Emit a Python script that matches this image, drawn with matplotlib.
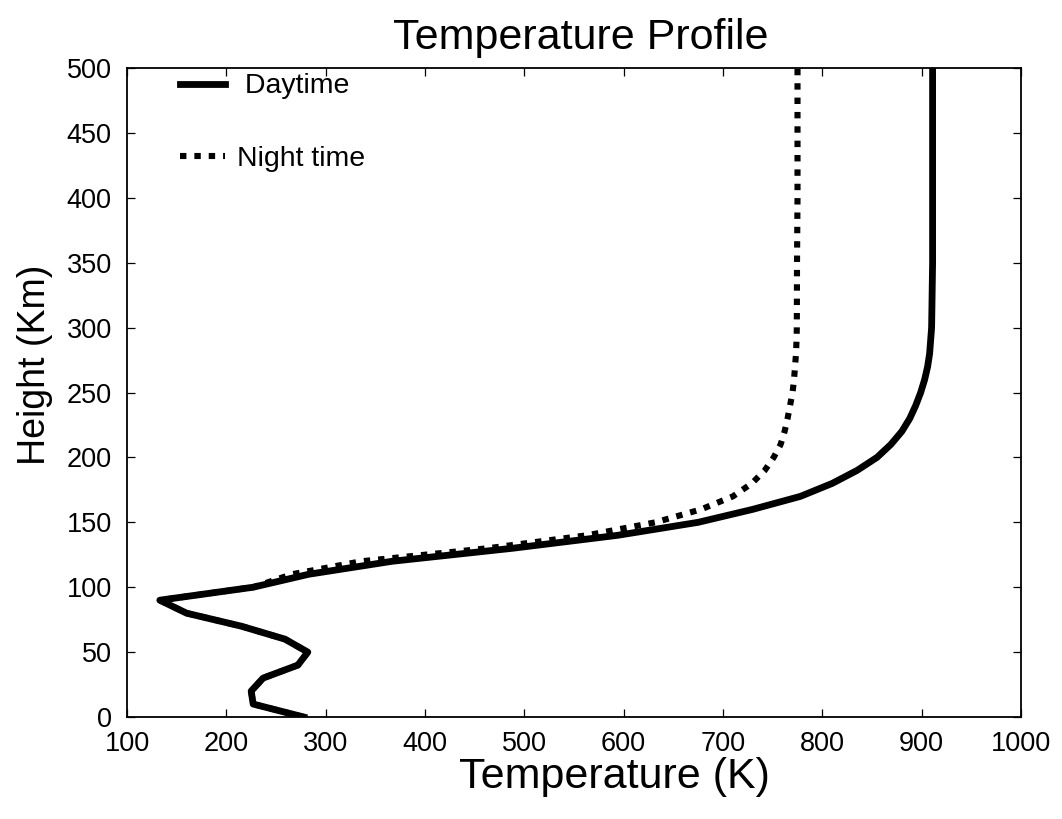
import numpy as np
import matplotlib
matplotlib.use('Agg')
import matplotlib.pyplot as plt

plt.rcParams['font.family'] = ['Liberation Sans', 'DejaVu Sans']

# heights (km) and temperatures (K)
height = [0, 10, 20, 30, 40, 50, 60, 70, 80, 90, 100,
          110, 120, 130, 140, 150, 160, 170, 180, 190, 200,
          210, 220, 230, 240, 250, 260, 270, 280, 290, 300,
          350, 400, 450, 500]

temp_day = [278, 227, 225, 237, 272, 282, 259, 215, 160, 133, 227,
            283, 367, 488, 594, 675, 730, 778, 810, 835, 855,
            869, 880, 888, 894, 899, 903, 906, 908, 909, 910,
            911, 911, 911, 911]

temp_night = [278, 227, 225, 237, 272, 282, 259, 215, 160, 133, 227,
              266, 336, 463, 563, 632, 678, 710, 729, 742, 751,
              758, 762, 765, 767.5, 770, 771.5, 772.5, 773.5, 774, 774.3,
              774.5, 775, 775, 775]

fig = plt.figure(figsize=(10.62, 8.19), dpi=100)
ax = fig.add_axes([0.1196, 0.1245, 0.8418, 0.7925])

ax.plot(temp_night, height, color='black', lw=4.4, dashes=(1.05, 1.3),
        dash_capstyle='butt', label='Night time')
ax.plot(temp_day, height, color='black', lw=4.9, label=' Daytime')

ax.set_xlim(100, 1000)
ax.set_ylim(0, 500)
ax.set_xticks(np.arange(100, 1001, 100))
ax.set_yticks(np.arange(0, 501, 50))
ax.tick_params(direction='in', length=6, width=0.9, top=True, right=True,
               labelsize=19.5)
ax.tick_params(axis='x', pad=10)
ax.tick_params(axis='y', pad=11)
for s in ax.spines.values():
    s.set_linewidth(1.3)

ax.set_title('Temperature Profile', fontsize=31, pad=14, x=0.508)
ax.set_xlabel('Temperature (K)', fontsize=31, labelpad=0, x=0.545)
ax.set_ylabel('Height (Km)', fontsize=27, labelpad=10, y=0.542)

h, l = ax.get_legend_handles_labels()
ax.legend(h[::-1], l[::-1], loc='upper left', bbox_to_anchor=(0.0595, 0.9915),
          frameon=False, fontsize=20.5, handlelength=1.58, handletextpad=0.4,
          labelspacing=1.64, borderpad=0, borderaxespad=0)

fig.savefig('out.png', dpi=100)
